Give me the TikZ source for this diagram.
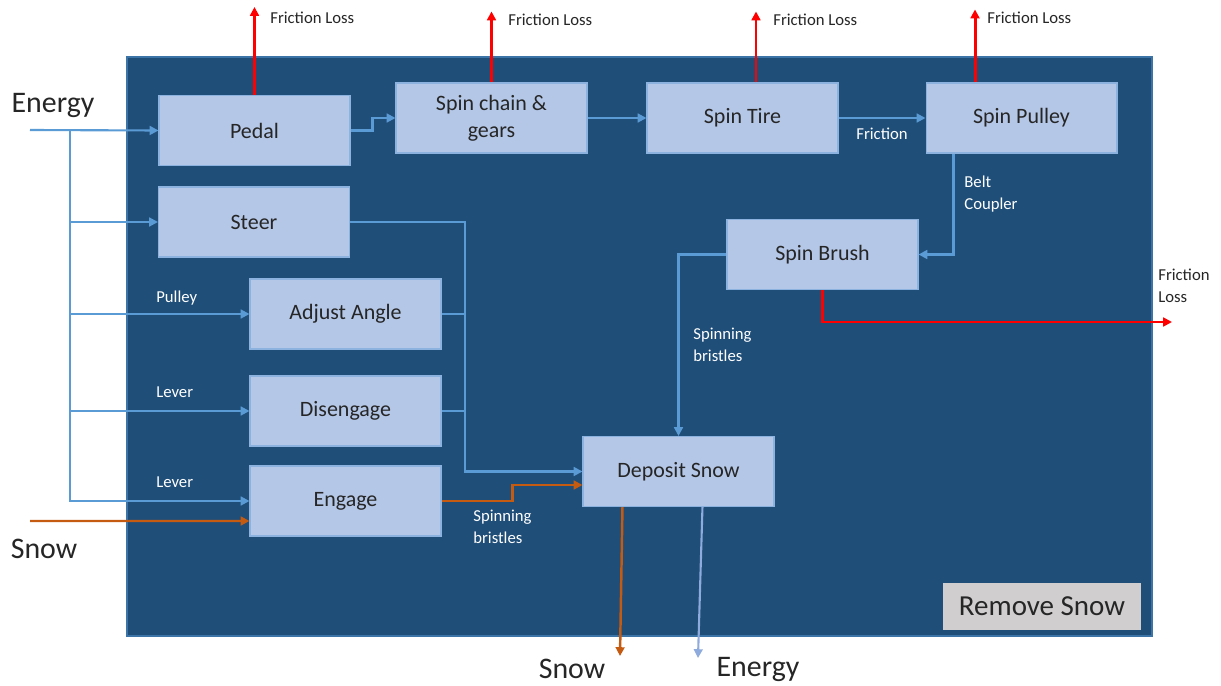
\documentclass[tikz,border=0pt]{standalone}
\usepackage{fontspec}
\setmainfont{Carlito}
\usetikzlibrary{arrows.meta}
\definecolor{panel}{HTML}{1F4E79}
\definecolor{boxfill}{HTML}{B4C7E7}
\definecolor{flowblue}{HTML}{5B9BD5}
\definecolor{outblue}{HTML}{8FAADC}
\definecolor{snoworange}{HTML}{C55A11}
\definecolor{textgray}{HTML}{262626}
\definecolor{tagfill}{HTML}{D0CECE}
\begin{document}
\begin{tikzpicture}
    [x=0.02cm, y=-0.02cm, >={Triangle[length=5pt,width=5pt]},
     block/.style={rectangle, fill=boxfill, draw=flowblue!45!boxfill, line width=0.6pt,
       minimum width=3.82cm, minimum height=1.4cm, inner sep=0pt, align=center,
       text=textgray, font=\fontsize{12.5}{15.5}\selectfont},
     flow/.style={->, draw=flowblue, line width=1.2pt},
     bus/.style={draw=flowblue, line width=1.2pt},
     snowflow/.style={->, draw=snoworange, line width=1.4pt},
     loss/.style={->, draw=red, line width=1.7pt},
     lbl/.style={text=white, font=\fontsize{9.5}{12.3}\selectfont, align=left, inner sep=0pt},
     toplbl/.style={text=textgray, font=\fontsize{9.5}{12.3}\selectfont, align=left, inner sep=0pt},
     biglbl/.style={text=textgray, font=\fontsize{17}{20}\selectfont, inner sep=0pt}]
    \useasboundingbox (0,0) rectangle (1221,686);
    \fill[white] (0,0) rectangle (1221,686);
    \filldraw[fill=panel, draw=flowblue!50!panel, line width=0.8pt] (127,57) rectangle (1152,636);

    \node (pedal) at (254.5,130.5) [block] {Pedal};
    \node (chain) at (491.5,118) [block] {Spin chain \&\\gears};
    \node (tire) at (742.5,118) [block] {Spin Tire};
    \node (pulley) at (1021.5,118) [block] {Spin Pulley};
    \node (steer) at (254,222) [block] {Steer};
    \node (brush) at (822.5,254.5) [block] {Spin Brush};
    \node (angle) at (345.5,314) [block] {Adjust Angle};
    \node (disengage) at (345.5,411) [block] {Disengage};
    \node (engage) at (345.5,501) [block] {Engage};
    \node (deposit) at (678.5,471.5) [block] {Deposit Snow};
    \node (remove) at (1042,606.5) [fill=tagfill, minimum width=3.96cm, minimum height=0.94cm,
      inner sep=0pt, text=textgray, font=\fontsize{16.5}{19}\selectfont] {Remove Snow};

    \node (energyin) at (53,105) [biglbl] {Energy};
    \node (snowin) at (44,549) [biglbl] {Snow};
    \node (snowout) at (572,669) [biglbl] {Snow};
    \node (energyout) at (758,669) [biglbl] {Energy};

    \coordinate (energystart) at (30,130);
    \coordinate (snowstart) at (30,521);
    \coordinate (trunk) at (70,130);
    \coordinate (bus) at (465,222);
    \coordinate (snowend) at (620,656);
    \coordinate (energyend) at (698,658);
    \coordinate (brushloss) at (1172,322);

    % energy feed
    \draw [flow] (energystart) -- (pedal.west);
    \draw [flow] (trunk) |- (engage.west);
    \draw [flow] (trunk |- steer.west) -- (steer.west);
    \draw [flow] (trunk |- angle.west) -- (angle.west);
    \draw [flow] (trunk |- disengage.west) -- (disengage.west);
    \node at (156,298) [lbl, anchor=west] {Pulley};
    \node at (156,392) [lbl, anchor=west] {Lever};
    \node at (156,482) [lbl, anchor=west] {Lever};
    \draw [snowflow] (snowstart) -- ([yshift=-0.4cm]engage.west);

    % drive train
    \draw [flow] (pedal.east) -- ++(22,0) |- (chain.west);
    \draw [flow] (chain.east) -- (tire.west);
    \draw [flow] (tire.east) -- (pulley.west)
      node [lbl, midway, below=5pt] {Friction};
    \draw [flow] ([xshift=0.56cm]pulley.south west) |- (brush.east);
    \node at (964,194) [lbl, anchor=west] {Belt\\Coupler};
    \draw [flow] (brush.west) -| (deposit.north);
    \node at (693,345) [lbl, anchor=west] {Spinning\\bristles};

    % controls to deposit
    \draw [flow] (steer.east) -| (bus |- deposit.west) -- (deposit.west);
    \draw [bus] (angle.east) -- (bus |- angle.east);
    \draw [bus] (disengage.east) -- (bus |- disengage.east);
    \draw [snowflow] (engage.east) -- ++(71,0) |- ([yshift=-0.27cm]deposit.west);
    \node at (473,527) [lbl, anchor=west] {Spinning\\bristles};

    % outputs
    \draw [snowflow] ([xshift=0.8cm]deposit.south west) -- (snowend);
    \draw [->, draw=outblue, line width=1.2pt] ([xshift=2.4cm]deposit.south west) -- (energyend);

    % friction losses
    \draw [loss] (pedal.north) -- ++(0,-88);
    \node at (270,18) [toplbl, anchor=west] {Friction Loss};
    \draw [loss] (chain.north) -- ++(0,-71);
    \node at (508,20) [toplbl, anchor=west] {Friction Loss};
    \draw [loss] ([xshift=0.27cm]tire.north) -- ++(0,-71);
    \node at (773,20) [toplbl, anchor=west] {Friction Loss};
    \draw [loss] ([xshift=-0.93cm]pulley.north) -- ++(0,-73);
    \node at (987,18) [toplbl, anchor=west] {Friction Loss};
    \draw [loss] (brush.south) |- (brushloss);
    \node at (1158,286) [toplbl, anchor=west] {Friction\\Loss};
  \end{tikzpicture}
\end{document}
